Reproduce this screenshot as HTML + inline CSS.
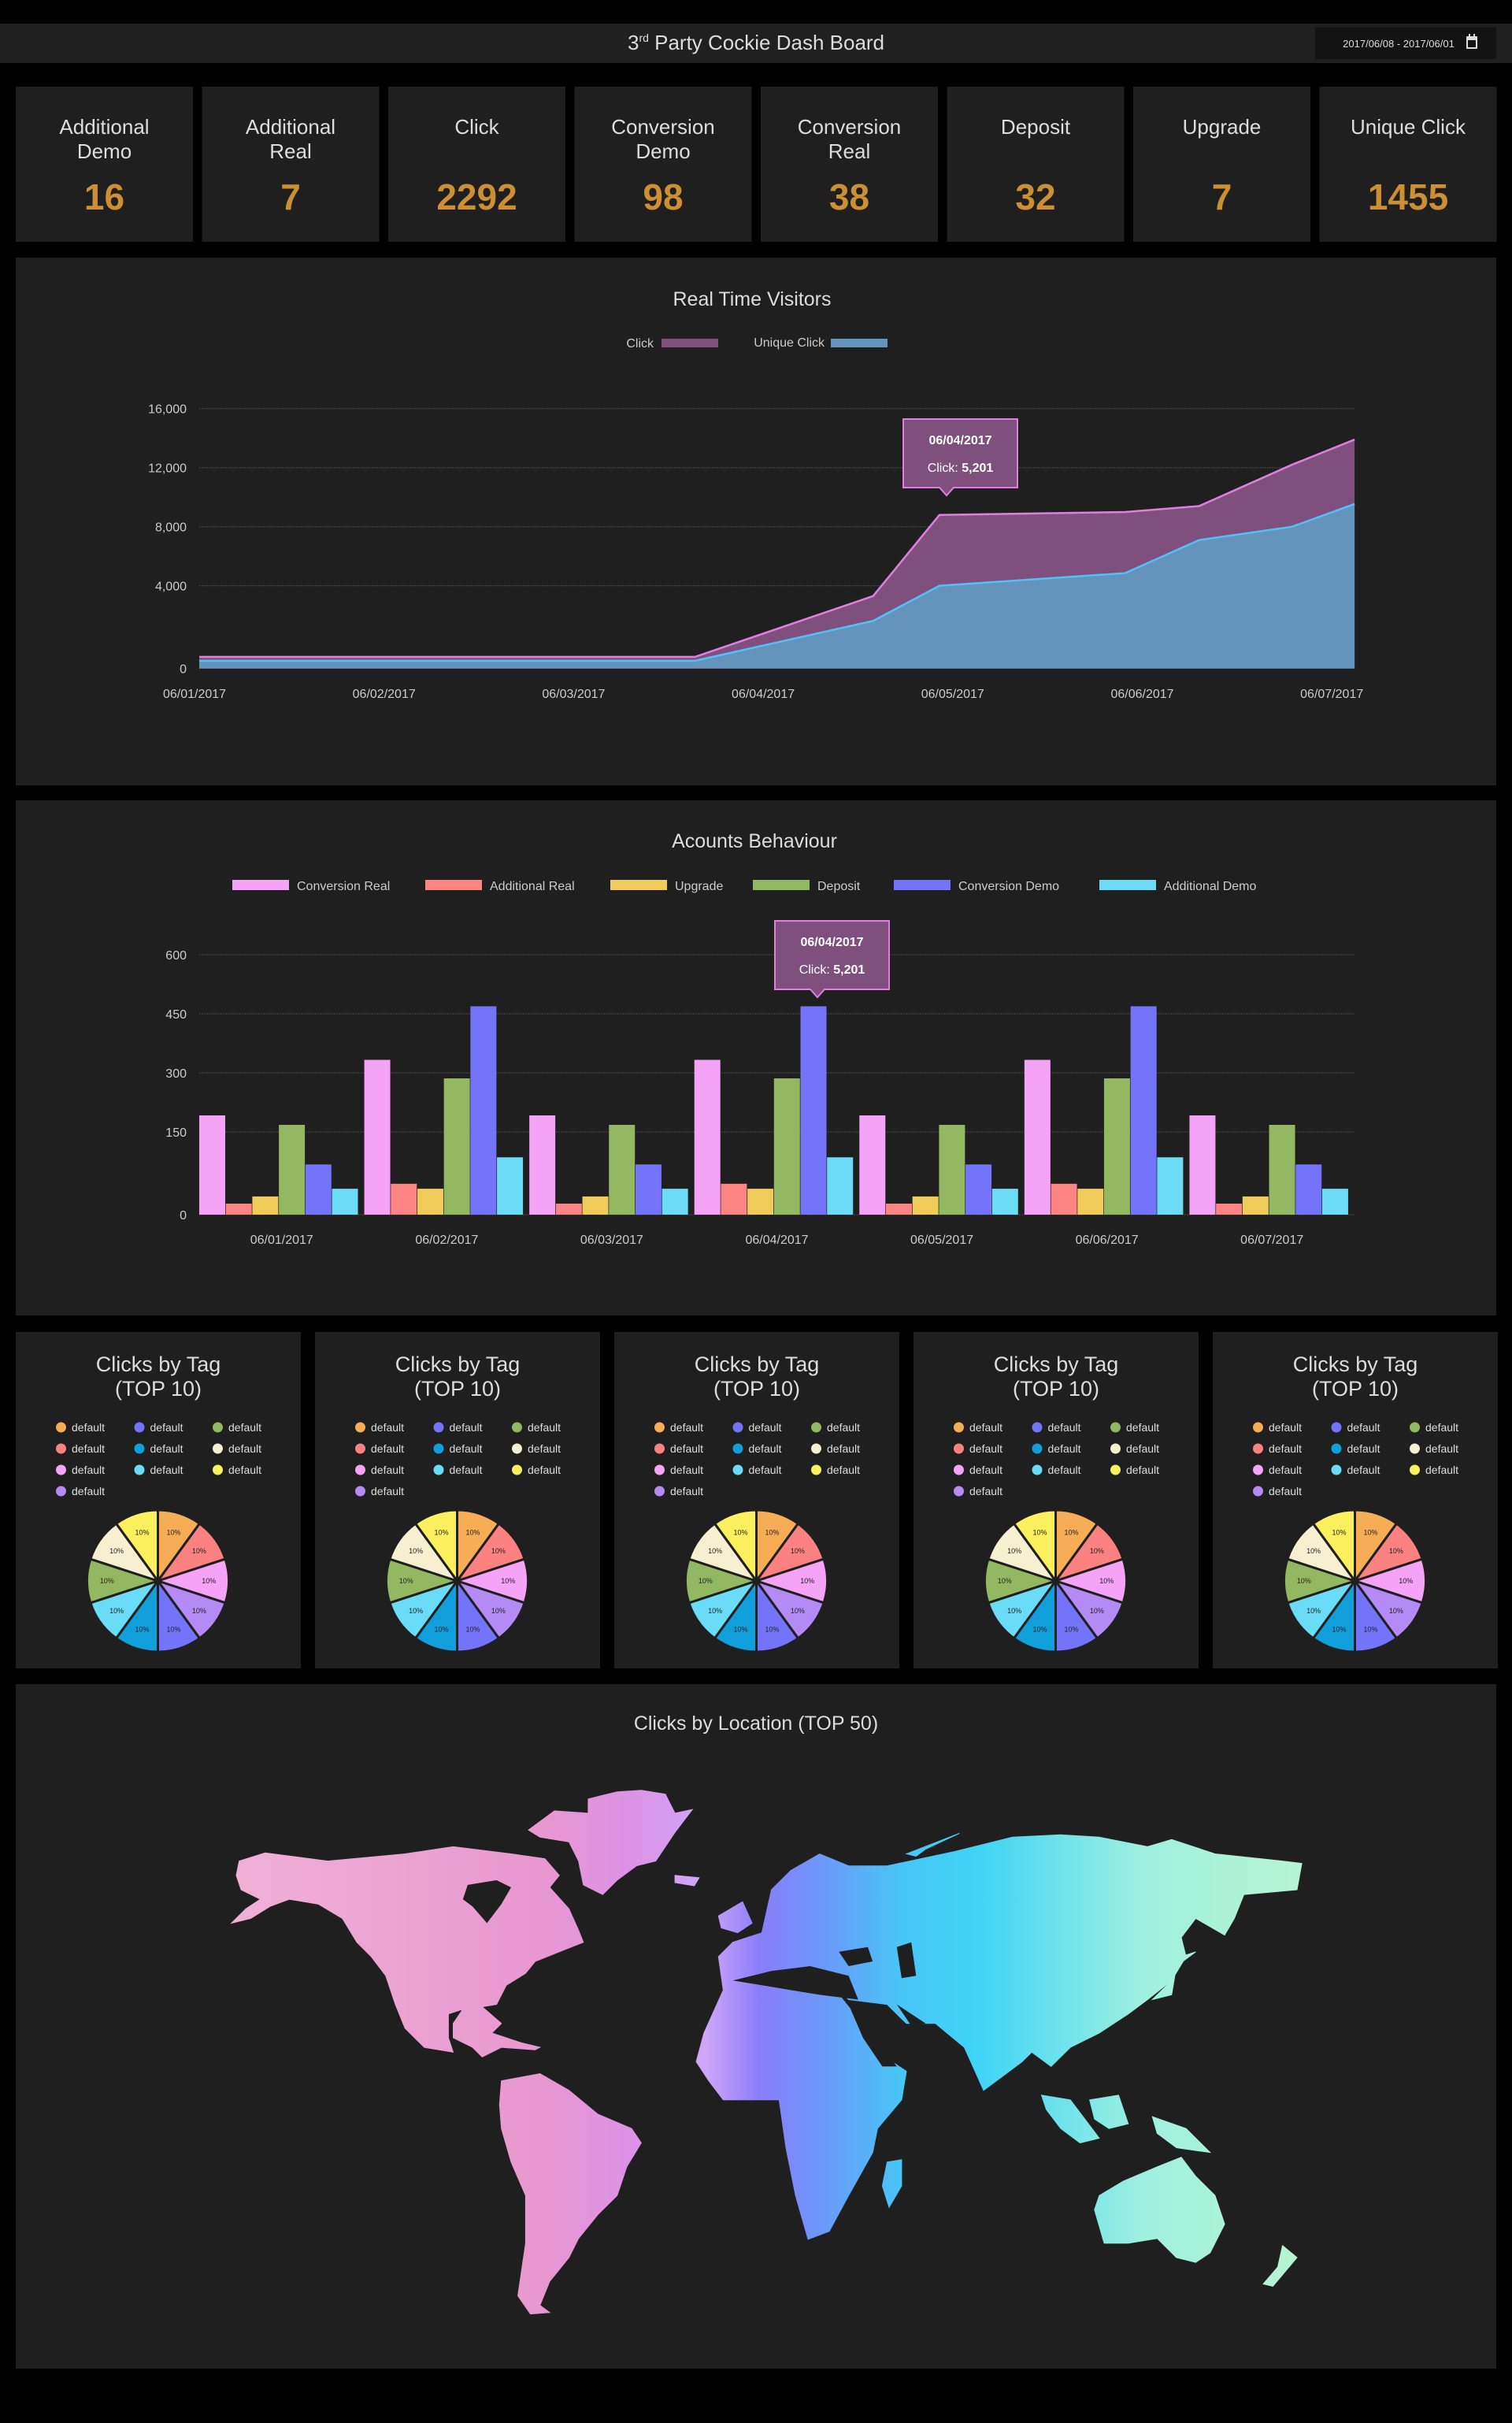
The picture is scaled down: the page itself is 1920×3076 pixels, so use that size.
<!DOCTYPE html>
<html><head><meta charset="utf-8"><title>3rd Party Cockie Dash Board</title>
<style>
html,body{margin:0;padding:0;background:#000;}
body{width:1920px;height:3071px;overflow:hidden;font-family:"Liberation Sans",sans-serif;}
svg text{font-family:"Liberation Sans",sans-serif;}
</style></head>
<body>
<svg id="root" width="1920" height="3071" viewBox="0 0 1920 3071" xmlns="http://www.w3.org/2000/svg">
  <defs>
    <linearGradient id="mapGrad" gradientUnits="userSpaceOnUse" x1="270" y1="0" x2="1660" y2="0">
      <stop offset="0" stop-color="#f0b2d6"/>
      <stop offset="0.3" stop-color="#e898d0"/>
      <stop offset="0.38" stop-color="#dc92e6"/>
      <stop offset="0.45" stop-color="#cfa6f8"/>
      <stop offset="0.5" stop-color="#8a7dfb"/>
      <stop offset="0.56" stop-color="#6a9af8"/>
      <stop offset="0.63" stop-color="#48c6f6"/>
      <stop offset="0.7" stop-color="#3fd4f6"/>
      <stop offset="0.85" stop-color="#9ff0e0"/>
      <stop offset="1" stop-color="#b8f4d0"/>
    </linearGradient>
  </defs>
  <!-- header -->
  <rect x="0" y="30" width="1920" height="50" fill="#202020"/>
  <text x="960" y="63" text-anchor="middle" font-size="26" fill="#dddddd">3<tspan font-size="14" dy="-10">rd</tspan><tspan dy="10"> Party Cockie Dash Board</tspan></text>
  <g>
    <rect x="1670" y="35" width="230" height="40" fill="#131313"/>
    <text x="1776" y="60" text-anchor="middle" font-size="13" fill="#dddddd">2017/06/08 - 2017/06/01</text>
    <g fill="#dddddd">
      <rect x="1862" y="46" width="14" height="16" rx="1"/>
      <rect x="1864" y="51" width="10" height="9" fill="#131313"/>
      <rect x="1865" y="43" width="2" height="5"/><rect x="1871" y="43" width="2" height="5"/>
    </g>
  </g>
  <g id="cards"></g>
  <!-- area chart panel -->
  <rect x="20" y="327" width="1880" height="670" fill="#1f1f1f"/>
  <text x="955" y="388" text-anchor="middle" font-size="25" fill="#dddddd">Real Time Visitors</text>
  <g>
    <text x="830" y="441" text-anchor="end" font-size="16" fill="#cccccc">Click</text>
    <rect x="840" y="430" width="72" height="11" fill="#7f507e"/>
  </g>
  <g>
    <text x="1047" y="440" text-anchor="end" font-size="16" fill="#cccccc">Unique Click</text>
    <rect x="1055" y="430" width="72" height="11" fill="#6494bc"/>
  </g>
  <g id="area"></g>
  <!-- bar chart panel -->
  <rect x="20" y="1016" width="1880" height="654" fill="#1f1f1f"/>
  <text x="958" y="1076" text-anchor="middle" font-size="25" fill="#dddddd">Acounts Behaviour</text>
  <g id="bars"></g>
  <g id="pies"></g>
  <!-- map panel -->
  <rect x="20" y="2138" width="1880" height="869" fill="#1f1f1f"/>
  <text x="960" y="2196" text-anchor="middle" font-size="25" fill="#dddddd">Clicks by Location (TOP 50)</text>
  <g id="map"></g>
</svg>
<script>
var NS='http://www.w3.org/2000/svg';
function mk(tag,attrs,parent){var e=document.createElementNS(NS,tag);for(var k in attrs)e.setAttribute(k,attrs[k]);parent.appendChild(e);return e;}

/* ---- stat cards ---- */
var cardLabels=[['Additional','Demo'],['Additional','Real'],['Click'],['Conversion','Demo'],['Conversion','Real'],['Deposit'],['Upgrade'],['Unique Click']];
var cardValues=['16','7','2292','98','38','32','7','1455'];
var cards=document.getElementById('cards');
for(var i=0;i<cardValues.length;i++){
  var g=mk('g',{},cards);
  
  
  var cx=20+i*236.5;
  mk('rect',{x:cx,y:110,width:225,height:197,fill:'#1f1f1f'},g);
  var mid=cx+112.5;
  for(var l=0;l<cardLabels[i].length;l++){
    var t=mk('text',{x:mid,y:170+l*31,'text-anchor':'middle','font-size':26,fill:'#dddddd'},g);
    t.textContent=cardLabels[i][l];
  }
  var v=mk('text',{x:mid,y:266,'text-anchor':'middle','font-size':46,'font-weight':'bold',fill:'#cc8f33'},g);
  
  
  v.textContent=cardValues[i];
}

/* ---- area chart ---- */
var areaDays=[0.025,2.64,3.58,3.93,4.91,5.30,5.79,6.12];
var clickValues=[560,560,3500,8800,9000,9400,12200,13900];
var uniqueValues=[370,370,2300,4000,4860,7100,8000,9540];
var areaTicks=[0,4000,8000,12000,16000];
var areaTickLabels=['0','4,000','8,000','12,000','16,000'];
var areaDates=['06/01/2017','06/02/2017','06/03/2017','06/04/2017','06/05/2017','06/06/2017','06/07/2017'];
function yA(v){return v<=4000?848.6-v/4000*105:743.7-(v-4000)/4000*75;}
function xA(d){return 247+d*240.7;}
var area=document.getElementById('area');
for(var i=0;i<areaTicks.length;i++){
  var gl=mk('line',{x1:253,x2:1720,y1:yA(areaTicks[i]),y2:yA(areaTicks[i]),stroke:'#4a4a4a','stroke-width':1,'stroke-dasharray':'2,1'},area);
  
  
  var tl=mk('text',{x:237,y:yA(areaTicks[i])+6,'text-anchor':'end','font-size':16,fill:'#cccccc'},area);
  
  
  tl.textContent=areaTickLabels[i];
}
for(var i=0;i<areaDates.length;i++){
  var xl=mk('text',{x:xA(i),y:886,'text-anchor':'middle','font-size':16,fill:'#cccccc'},area);
  
  
  xl.textContent=areaDates[i];
}
function areaPath(vals){
  var d='M'+xA(areaDays[0])+','+yA(0);
  for(var i=0;i<vals.length;i++)d+=' L'+xA(areaDays[i])+','+yA(vals[i]);
  d+=' L'+xA(areaDays[areaDays.length-1])+','+yA(0)+' Z';return d;}
function linePath(vals){
  var d='';for(var i=0;i<vals.length;i++)d+=(i?' L':'M')+xA(areaDays[i])+','+yA(vals[i]);return d;}
var ca=mk('path',{d:areaPath(clickValues),fill:'#7f507e'},area);


var cl=mk('path',{d:linePath(clickValues),fill:'none',stroke:'#e07fe0','stroke-width':2.5},area);


var ua=mk('path',{d:areaPath(uniqueValues),fill:'#6494bc'},area);


var ul=mk('path',{d:linePath(uniqueValues),fill:'none',stroke:'#4fc3f7','stroke-width':2.5},area);


function tooltip(parent,x0,y0,w,h,tipX,name){
  var g=mk('g',{},parent);
  
  
  mk('path',{d:'M'+x0+','+y0+' h'+w+' v'+h+' H'+(tipX+9)+' L'+tipX+','+(y0+h+10)+' L'+(tipX-9)+','+(y0+h)+' H'+x0+' Z',fill:'#7f507e',stroke:'#e07fe0','stroke-width':2},g);
  var t1=mk('text',{x:x0+w/2,y:y0+32,'text-anchor':'middle','font-size':16,'font-weight':'bold',fill:'#ffffff'},g);t1.textContent='06/04/2017';
  var t2=mk('text',{x:x0+w/2,y:y0+67,'text-anchor':'middle','font-size':16,fill:'#ffffff'},g);
  t2.innerHTML='Click: <tspan font-weight="bold">5,201</tspan>';
}
tooltip(area,1147,532,145,87,1202,'click-tooltip');

/* ---- bar chart ---- */
var barDates=['06/01/2017','06/02/2017','06/03/2017','06/04/2017','06/05/2017','06/06/2017','06/07/2017'];
var seriesNames=['Conversion Real','Additional Real','Upgrade','Deposit','Conversion Demo','Additional Demo'];
var seriesColors=['#f5a3f7','#fc8583','#f0cb5a','#93b862','#7474fa','#6cdcf6'];
var convReal=[192,333,192,333,192,333,192];
var addReal=[20,56,20,56,20,56,20];
var upgrade=[33,47,33,47,33,47,33];
var deposit=[168,286,168,286,168,286,168];
var convDemo=[91,469,91,469,91,469,91];
var addDemo=[47,104,47,104,47,104,47];
var barTicks=[0,150,300,450,600];
var barTickLabels=['0','150','300','450','600'];
var allSeries=[convReal,addReal,upgrade,deposit,convDemo,addDemo];
function yB(v){return v<=150?1542-v/150*105:1437-(v-150)/150*75;}
var bandW=(1720-253)/barDates.length;
function xB(gi,si){return 253+gi*bandW+si*33.7;}
var bars=document.getElementById('bars');
var legX=[295,540,775,956,1135,1396];
for(var s=0;s<seriesNames.length;s++){
  var lg=mk('g',{},bars);
  
  
  mk('rect',{x:legX[s],y:1117,width:72,height:13,fill:seriesColors[s]},lg);
  var lt=mk('text',{x:legX[s]+82,y:1130,'font-size':16,fill:'#cccccc'},lg);lt.textContent=seriesNames[s];
}
for(var i=0;i<barTicks.length;i++){
  var gl=mk('line',{x1:253,x2:1720,y1:yB(barTicks[i]),y2:yB(barTicks[i]),stroke:'#4a4a4a','stroke-width':1,'stroke-dasharray':'2,1'},bars);
  
  
  var tl=mk('text',{x:237,y:yB(barTicks[i])+6,'text-anchor':'end','font-size':16,fill:'#cccccc'},bars);
  
  
  tl.textContent=barTickLabels[i];
}
for(var gi=0;gi<barDates.length;gi++){
  for(var s=0;s<allSeries.length;s++){
    var v=allSeries[s][gi];
    var r=mk('rect',{x:xB(gi,s),y:yB(v),width:33,height:yB(0)-yB(v),fill:seriesColors[s]},bars);
    
    
  }
  var xl=mk('text',{x:253+gi*bandW+bandW/2,y:1579,'text-anchor':'middle','font-size':16,fill:'#cccccc'},bars);
  
  
  xl.textContent=barDates[gi];
}
tooltip(bars,984,1169,145,87,1038,'bar-tooltip');

/* ---- pies ---- */
var pieValues=[10,10,10,10,10,10,10,10,10,10];
var pieLabels=['default','default','default','default','default','default','default','default','default','default'];
var pieColors=['#f6ad55','#fc8181','#f5a3f7','#b48af4','#7474fa','#119fdc','#6adcf7','#93b862','#f7f0d0','#fdf05e'];
var pies=document.getElementById('pies');
var legendCols=[[0,1,2,3],[4,5,6],[7,8,9]];
for(var p=0;p<5;p++){
  var px=20+p*380;
  var g=mk('g',{},pies);
  
  
  mk('rect',{x:px,y:1691,width:362,height:427,fill:'#1f1f1f'},g);
  var t1=mk('text',{x:px+181,y:1741,'text-anchor':'middle','font-size':27,fill:'#dddddd'},g);t1.textContent='Clicks by Tag';
  var t2=mk('text',{x:px+181,y:1772,'text-anchor':'middle','font-size':27,fill:'#dddddd'},g);t2.textContent='(TOP 10)';
  for(var c=0;c<legendCols.length;c++){
    for(var r=0;r<legendCols[c].length;r++){
      var idx=legendCols[c][r];
      var le=mk('g',{},g);
      
      
      mk('circle',{cx:px+57.5+c*99.5,cy:1812+r*27,r:6.5,fill:pieColors[idx]},le);
      var lt=mk('text',{x:px+71+c*99.5,y:1817+r*27,'font-size':14,fill:'#dddddd'},le);lt.textContent=pieLabels[idx];
    }
  }
  var total=pieValues.reduce(function(a,b){return a+b;},0);
  var cx=px+180.5,cy=2007,R=90,a0=-Math.PI/2;
  for(var i=0;i<pieValues.length;i++){
    var a1=a0+pieValues[i]/total*2*Math.PI;
    var d='M'+cx+','+cy+' L'+(cx+R*Math.cos(a0))+','+(cy+R*Math.sin(a0))+' A'+R+','+R+' 0 '+((a1-a0)>Math.PI?1:0)+' 1 '+(cx+R*Math.cos(a1))+','+(cy+R*Math.sin(a1))+' Z';
    var sl=mk('path',{d:d,fill:pieColors[i],stroke:'#1f1f1f','stroke-width':3},g);
    
    
    var am=(a0+a1)/2;
    var st=mk('text',{x:cx+R*0.72*Math.cos(am),y:cy+R*0.72*Math.sin(am)+3,'text-anchor':'middle','font-size':9,fill:'#222222'},g);
    st.textContent=Math.round(pieValues[i]/total*100)+'%';
    a0=a1;
  }
}

/* ---- map ---- */
var mapShapes=[
 [248,400,275,383,340,400,420,385,470,370,530,385,565,395,580,430,570,455,590,500,600,545,605,570,580,590,555,610,545,635,525,660,515,700,500,705,520,740,510,760,540,780,560,790,555,795,520,790,500,810,490,790,470,770,470,740,480,710,465,720,465,770,470,800,440,790,420,750,410,700,400,640,385,600,370,570,355,520,330,490,300,480,280,495,260,520,240,530,255,500,270,480,250,460,245,430],
 [610,270,640,255,665,252,690,260,700,300,718,292,700,340,680,400,660,410,640,440,625,470,605,450,600,400,590,360,560,350,548,335,575,295,610,300],
 [520,860,560,845,590,880,620,930,655,960,665,990,650,1040,640,1100,620,1140,600,1190,590,1230,570,1280,560,1330,570,1345,550,1348,537,1310,545,1200,545,1100,530,1030,520,960,518,910],
 [730,760,750,670,745,600,760,570,790,550,830,560,860,600,840,650,870,680,890,730,910,790,925,820,940,840,935,900,910,960,905,1010,880,1100,860,1175,838,1192,825,1100,815,1000,808,900,750,900,735,860,722,820],
 [790,550,800,460,820,420,850,385,880,410,920,410,990,380,1050,350,1100,345,1140,350,1190,370,1215,355,1260,385,1330,400,1350,405,1345,460,1290,470,1280,520,1270,555,1240,520,1225,560,1230,600,1215,650,1190,690,1170,720,1140,760,1110,790,1090,830,1070,800,1060,820,1020,880,1000,790,970,740,940,740,920,700,880,690,860,650,840,630,830,600],
 [1140,1100,1165,1070,1200,1040,1225,1020,1240,1060,1260,1100,1270,1160,1255,1220,1240,1240,1220,1230,1200,1190,1170,1200,1145,1200,1135,1130],
 [1080,890,1110,900,1140,980,1120,990,1100,960,1085,920],
 [1195,935,1230,960,1255,1010,1220,1000,1200,970],
 [1130,900,1160,890,1170,950,1150,960,1135,940],
 [920,1030,935,1025,935,1080,922,1125,915,1080],
 [1330,1205,1345,1230,1320,1290,1310,1285,1325,1250],
 [1240,590,1220,620,1215,680,1195,690,1215,650,1225,600],
 [745,515,770,485,780,530,765,550,748,540],
 [700,430,725,435,720,452,700,445],
 [940,385,995,342,960,375,950,390]
];
var mapHoles=[
 [485,450,515,440,530,455,520,490,505,530,490,495,480,480],
 [760,650,800,630,840,620,880,640,890,690,850,680,820,670,790,660],
 [870,590,900,580,905,610,880,620],
 [930,580,945,570,950,640,935,645],
 [880,700,905,760,930,830,915,830,895,770],
 [930,700,960,740,945,745]
];
var map=document.getElementById('map');
function toPts(arr){var s='';for(var i=0;i<arr.length;i+=2)s+=(arr[i]*1.2245).toFixed(1)+','+(2120+arr[i+1]*0.6065).toFixed(1)+' ';return s;}
for(var i=0;i<mapShapes.length;i++){
  var pl=mk('polygon',{points:toPts(mapShapes[i]),fill:'url(#mapGrad)',stroke:'url(#mapGrad)','stroke-width':1},map);
  
  
}
for(var i=0;i<mapHoles.length;i++){
  var h=mk('polygon',{points:toPts(mapHoles[i]),fill:'#1f1f1f'},map);
  
  
}
</script>
</body></html>
